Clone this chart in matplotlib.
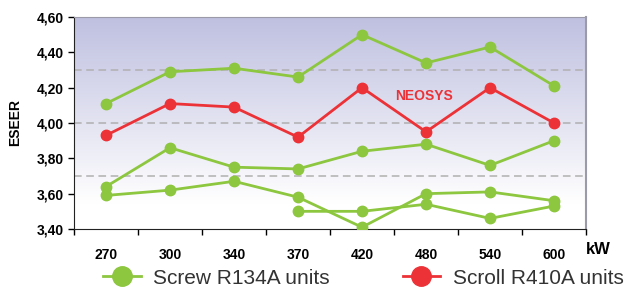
import numpy as np
import matplotlib
matplotlib.use("Agg")
import matplotlib.pyplot as plt
from matplotlib.colors import LinearSegmentedColormap
from matplotlib.lines import Line2D

plt.rcParams["font.family"] = ["Liberation Sans", "DejaVu Sans"]

categories = ["270", "300", "340", "370", "420", "480", "540", "600"]

screw_a = [4.11, 4.29, 4.31, 4.26, 4.50, 4.34, 4.43, 4.21]
screw_b = [3.64, 3.86, 3.75, 3.74, 3.84, 3.88, 3.76, 3.90]
screw_c = [3.59, 3.62, 3.67, 3.58, 3.41, 3.60, 3.61, 3.56]
screw_d = [None, None, None, 3.50, 3.50, 3.54, 3.46, 3.53]
scroll = [3.93, 4.11, 4.09, 3.92, 4.20, 3.95, 4.20, 4.00]

ref_lines = [4.30, 4.00, 3.70]
yticks = [3.40, 3.60, 3.80, 4.00, 4.20, 4.40, 4.60]

GREEN = "#8dc63f"
RED = "#ec3237"

fig = plt.figure(figsize=(6.35, 2.91), dpi=100)
ax = fig.add_axes([74 / 635, 1 - 229 / 291, 512 / 635, 212 / 291])

x = np.arange(len(categories))
ax.set_xlim(-0.5, len(categories) - 0.5)
ax.set_ylim(3.40, 4.60)

# background gradient: white at the bottom, lavender at the top
cmap = LinearSegmentedColormap.from_list("bg", [(0, "#ffffff"), (0.12, "#ffffff"), (1, "#bfc0e0")])
grad = np.linspace(0, 1, 256).reshape(-1, 1)
ax.imshow(grad, cmap=cmap, origin="lower", aspect="auto",
          extent=[-0.5, len(categories) - 0.5, 3.40, 4.60], zorder=0)

for y in ref_lines:
    ax.axhline(y, color="#b0b0b0", lw=1.1, ls=(0, (5, 3)), zorder=1)

def series(vals, color):
    xs = [i for i, v in zip(x, vals) if v is not None]
    ys = [v for v in vals if v is not None]
    ax.plot(xs, ys, color=color, lw=2, marker="o", ms=7.5, zorder=3)

for s in (screw_a, screw_b, screw_c, screw_d):
    series(s, GREEN)
series(scroll, RED)

ax.text(4.97, 4.15, "NEOSYS", color=RED, fontsize=10, fontweight="bold",
        ha="center", va="center", zorder=4)

ax.set_xticks(np.arange(-0.5, len(categories)), minor=False)
ax.set_xticklabels([])
ax.set_xticks(x, minor=True)
ax.set_xticklabels(categories, minor=True, fontsize=10, fontweight="bold")
ax.tick_params(axis="x", which="minor", length=0, pad=14)
ax.tick_params(axis="x", which="major", length=4, width=1)
ax.set_yticks(yticks)
ax.set_yticklabels([f"{v:.2f}".replace(".", ",") for v in yticks],
                   fontsize=10, fontweight="bold")
ax.tick_params(axis="y", length=4, width=1)

ax.spines["left"].set_color("#222222")
ax.spines["bottom"].set_color("#222222")
ax.spines["top"].set_color("#9a9aa8")
ax.spines["right"].set_color("#9a9aa8")
ax.spines["right"].set_linewidth(1.5)

ax.set_ylabel("ESEER", fontsize=10, fontweight="bold", labelpad=10)
fig.text(586 / 635, 1 - 249 / 291, "kW", fontsize=12, fontweight="bold",
         ha="left", va="center")

handles = [
    Line2D([], [], color=GREEN, lw=2, marker="o", ms=14),
    Line2D([], [], color=RED, lw=2, marker="o", ms=14),
]
fig.legend(handles, ["Screw R134A units", "Scroll R410A units"],
           loc="center left", bbox_to_anchor=(103 / 635, 1 - 278 / 291), ncol=2,
           frameon=False, fontsize=15, handlelength=1.8, columnspacing=3.5,
           labelcolor="#333333", handletextpad=0.6, borderpad=0, borderaxespad=0)

fig.savefig("out.png", dpi=100)
